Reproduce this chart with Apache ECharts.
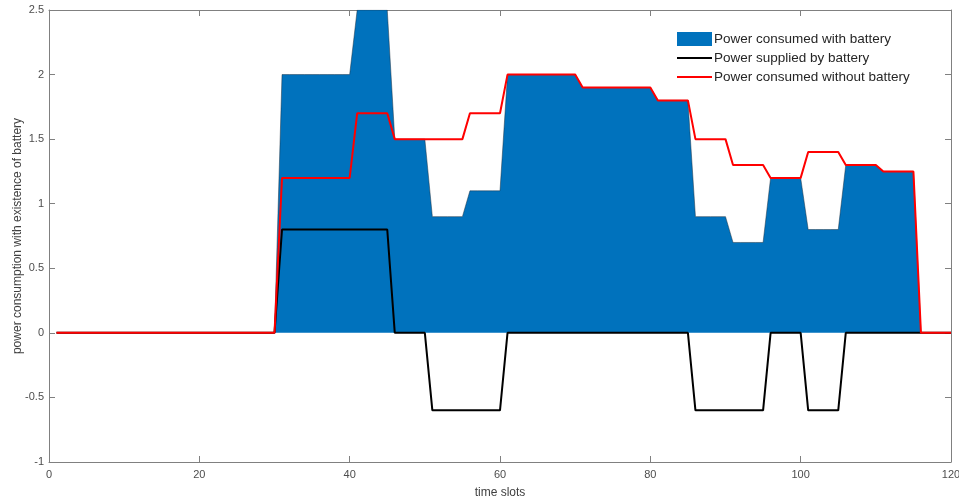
<!DOCTYPE html>
<html>
<head>
<meta charset="utf-8">
<script src="https://cdn.jsdelivr.net/npm/echarts@6/dist/echarts.min.js"></script>
<style>
  html, body { margin: 0; padding: 0; background: #fff; }
  #chart { width: 959px; height: 500px; }
</style>
</head>
<body>
<div id="chart"></div>
<script>
// values per time slot (slot 1 .. 120)
var withBattery = [
  0, 0, 0, 0, 0, 0, 0, 0, 0, 0,
  0, 0, 0, 0, 0, 0, 0, 0, 0, 0,
  0, 0, 0, 0, 0, 0, 0, 0, 0, 0,
  2.0, 2.0, 2.0, 2.0, 2.0, 2.0, 2.0, 2.0, 2.0, 2.0,
  2.5, 2.5, 2.5, 2.5, 2.5, 1.5, 1.5, 1.5, 1.5, 1.5,
  0.9, 0.9, 0.9, 0.9, 0.9, 1.1, 1.1, 1.1, 1.1, 1.1,
  2.0, 2.0, 2.0, 2.0, 2.0, 2.0, 2.0, 2.0, 2.0, 2.0,
  1.9, 1.9, 1.9, 1.9, 1.9, 1.9, 1.9, 1.9, 1.9, 1.9,
  1.8, 1.8, 1.8, 1.8, 1.8, 0.9, 0.9, 0.9, 0.9, 0.9,
  0.7, 0.7, 0.7, 0.7, 0.7, 1.2, 1.2, 1.2, 1.2, 1.2,
  0.8, 0.8, 0.8, 0.8, 0.8, 1.3, 1.3, 1.3, 1.3, 1.3,
  1.25, 1.25, 1.25, 1.25, 1.25, 0, 0, 0, 0, 0
];

var batterySupply = [
  0, 0, 0, 0, 0, 0, 0, 0, 0, 0,
  0, 0, 0, 0, 0, 0, 0, 0, 0, 0,
  0, 0, 0, 0, 0, 0, 0, 0, 0, 0,
  0.8, 0.8, 0.8, 0.8, 0.8, 0.8, 0.8, 0.8, 0.8, 0.8,
  0.8, 0.8, 0.8, 0.8, 0.8, 0, 0, 0, 0, 0,
  -0.6, -0.6, -0.6, -0.6, -0.6, -0.6, -0.6, -0.6, -0.6, -0.6,
  0, 0, 0, 0, 0, 0, 0, 0, 0, 0,
  0, 0, 0, 0, 0, 0, 0, 0, 0, 0,
  0, 0, 0, 0, 0, -0.6, -0.6, -0.6, -0.6, -0.6,
  -0.6, -0.6, -0.6, -0.6, -0.6, 0, 0, 0, 0, 0,
  -0.6, -0.6, -0.6, -0.6, -0.6, 0, 0, 0, 0, 0,
  0, 0, 0, 0, 0, 0, 0, 0, 0, 0
];

var withoutBattery = [
  0, 0, 0, 0, 0, 0, 0, 0, 0, 0,
  0, 0, 0, 0, 0, 0, 0, 0, 0, 0,
  0, 0, 0, 0, 0, 0, 0, 0, 0, 0,
  1.2, 1.2, 1.2, 1.2, 1.2, 1.2, 1.2, 1.2, 1.2, 1.2,
  1.7, 1.7, 1.7, 1.7, 1.7, 1.5, 1.5, 1.5, 1.5, 1.5,
  1.5, 1.5, 1.5, 1.5, 1.5, 1.7, 1.7, 1.7, 1.7, 1.7,
  2.0, 2.0, 2.0, 2.0, 2.0, 2.0, 2.0, 2.0, 2.0, 2.0,
  1.9, 1.9, 1.9, 1.9, 1.9, 1.9, 1.9, 1.9, 1.9, 1.9,
  1.8, 1.8, 1.8, 1.8, 1.8, 1.5, 1.5, 1.5, 1.5, 1.5,
  1.3, 1.3, 1.3, 1.3, 1.3, 1.2, 1.2, 1.2, 1.2, 1.2,
  1.4, 1.4, 1.4, 1.4, 1.4, 1.3, 1.3, 1.3, 1.3, 1.3,
  1.25, 1.25, 1.25, 1.25, 1.25, 0, 0, 0, 0, 0
];

var seriesNames = ['Power consumed with battery', 'Power supplied by battery', 'Power consumed without battery'];

// pair each value with its slot number
function toPoints(values) {
  return values.map(function (v, i) { return [i + 1, v]; });
}

var axisGray = '#808080';
var labelGray = '#4d4d4d';
var font = 'Liberation Sans';
var lineIcon = 'path://M0 0H35V2H0Z';

var chart = echarts.init(document.getElementById('chart'));

var option = {
  animation: false,
  backgroundColor: '#fff',
  textStyle: { fontFamily: font },
  grid: { left: 49, top: 10, right: 8, bottom: 38, containLabel: false, outerBoundsMode: 'none' },
  legend: {
    left: 677,
    top: 32,
    padding: 0,
    orient: 'vertical',
    itemWidth: 35,
    itemHeight: 14,
    itemGap: 5,
    symbolKeepAspect: true,
    textStyle: { fontFamily: font, fontSize: 13.5, color: '#262626', padding: [0, 0, 0, -3] },
    data: [
      { name: seriesNames[0], icon: 'rect' },
      { name: seriesNames[1], icon: lineIcon },
      { name: seriesNames[2], icon: lineIcon }
    ]
  },
  xAxis: [
    {
      type: 'value', min: 0, max: 120, interval: 20,
      name: 'time slots', nameLocation: 'middle', nameGap: 25, nameMoveOverlap: false,
      nameTextStyle: { fontFamily: font, fontSize: 12, color: '#404040' },
      axisLine: { show: true, onZero: false, lineStyle: { color: axisGray } },
      axisTick: { inside: true, length: 6, lineStyle: { color: axisGray } },
      axisLabel: { margin: 7, fontSize: 11, color: labelGray, fontFamily: font },
      splitLine: { show: false }
    },
    {
      type: 'value', position: 'top', min: 0, max: 120, interval: 20,
      axisLine: { show: true, onZero: false, lineStyle: { color: axisGray } },
      axisTick: { inside: true, length: 6, lineStyle: { color: axisGray } },
      axisLabel: { show: false },
      splitLine: { show: false }
    }
  ],
  yAxis: [
    {
      type: 'value', min: -1, max: 2.5, interval: 0.5,
      name: 'power consumption with existence of battery', nameLocation: 'middle', nameGap: 25, nameMoveOverlap: false,
      nameTextStyle: { fontFamily: font, fontSize: 12, color: '#404040' },
      axisLine: { show: true, onZero: false, lineStyle: { color: axisGray } },
      axisTick: { inside: true, length: 6, lineStyle: { color: axisGray } },
      axisLabel: { margin: 5, fontSize: 11, color: labelGray, fontFamily: font },
      splitLine: { show: false }
    },
    {
      type: 'value', position: 'right', min: -1, max: 2.5, interval: 0.5,
      axisLine: { show: true, onZero: false, lineStyle: { color: axisGray } },
      axisTick: { inside: true, length: 6, lineStyle: { color: axisGray } },
      axisLabel: { show: false },
      splitLine: { show: false }
    }
  ],
  series: [
    {
      name: seriesNames[0],
      type: 'line',
      data: toPoints(withBattery),
      showSymbol: false,
      symbol: 'none',
      itemStyle: { color: '#0072BD' },
      lineStyle: { color: '#1b2f40', width: 0.7, opacity: 0.7 },
      areaStyle: { color: '#0072BD', opacity: 1, origin: 'auto' },
      z: 1
    },
    {
      name: seriesNames[1],
      type: 'line',
      data: toPoints(batterySupply),
      showSymbol: false,
      symbol: 'none',
      itemStyle: { color: '#000000' },
      lineStyle: { color: '#000000', width: 2 },
      z: 2
    },
    {
      name: seriesNames[2],
      type: 'line',
      data: toPoints(withoutBattery),
      showSymbol: false,
      symbol: 'none',
      itemStyle: { color: '#ff0000' },
      lineStyle: { color: '#ff0000', width: 2 },
      z: 3
    }
  ]
};

chart.setOption(option);
</script>
</body>
</html>
